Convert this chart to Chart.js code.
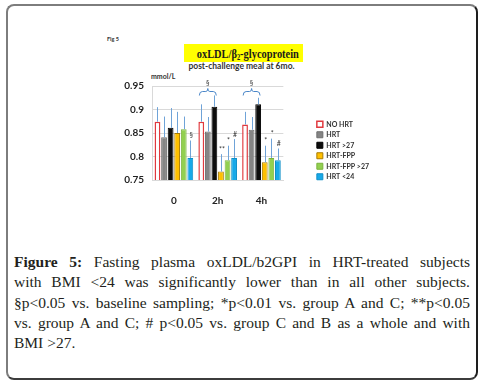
<!DOCTYPE html>
<html>
<head>
<meta charset="utf-8">
<script src="https://cdn.jsdelivr.net/npm/chart.js@4"></script>
<style>
html, body { margin: 0; padding: 0; background: #fff; }
body { width: 493px; height: 392px; position: relative; overflow: hidden; }
#frame { position: absolute; left: 6px; top: 4px; width: 468px; height: 372px; border: 2px solid; border-color: #7d7d7d #1e1e1e #3c3c3c #7d7d7d; border-radius: 8px; }
#chartBox { position: absolute; left: 100px; top: 72px; width: 279px; height: 144px; }
#title { position: absolute; left: 184px; top: 44px; width: 119px; height: 18px; background: #ffff00; text-align: center; line-height: 18px; white-space: nowrap; color: #1a1a1a; }
#title span { display: inline-block; font: bold 13px 'Liberation Serif', serif; transform: scaleX(0.8); transform-origin: center; }
#title sub { font-size: 8px; vertical-align: -2px; line-height: 0; }
#sub { position: absolute; left: 184px; top: 60px; width: 115px; text-align: center; white-space: nowrap; font: bold 8.5px Lato, sans-serif; line-height: 12px; color: #333; }
#fig { position: absolute; left: 107px; top: 36px; font: bold 5.5px Lato, sans-serif; color: #333; }
#unit { position: absolute; left: 151px; top: 71px; font: bold 7px Lato, sans-serif; line-height: 10px; color: #333; }
#cap { position: absolute; left: 14px; top: 252px; width: 456px; font: 15.5px 'Liberation Serif', serif; line-height: 20.3px; color: #231f20; }
#cap div { text-align: justify; text-align-last: justify; }
#cap div.last { text-align-last: left; }
</style>
</head>
<body>
<div id="frame"></div>
<div id="fig">Fig 5</div>
<div id="title"><span>oxLDL/β<sub>2</sub>-glycoprotein</span></div>
<div id="sub">post-challenge meal at 6mo.</div>
<div id="unit">mmol/L</div>
<div id="chartBox"><canvas id="chartFig5"></canvas></div>
<div id="cap">
  <div><b>Figure 5:</b> Fasting plasma oxLDL/b2GPI in HRT-treated subjects</div>
  <div>with BMI &lt;24 was significantly lower than in all other subjects.</div>
  <div>§p&lt;0.05 vs. baseline sampling; *p&lt;0.01 vs. group A and C; **p&lt;0.05</div>
  <div>vs. group A and C; # p&lt;0.05 vs. group C and B as a whole and with</div>
  <div class="last">BMI &gt;27.</div>
</div>
<script>
// sampling times
const categories = ['0', '2h', '4h'];
const seriesNames = ['NO HRT', 'HRT', 'HRT >27', 'HRT-FPP', 'HRT-FPP >27', 'HRT <24'];

// mean values (mmol/L)
const noHrt  = [0.874, 0.874, 0.868];
const hrt    = [0.841, 0.853, 0.857];
const hrt27  = [0.861, 0.906, 0.911];
const fpp    = [0.850, 0.768, 0.788];
const fpp27  = [0.858, 0.792, 0.797];
const hrt24  = [0.797, 0.797, 0.792];

// top of the error bars
const noHrtErr = [0.905, 0.911, 0.895];
const hrtErr   = [0.885, 0.884, 0.884];
const hrt27Err = [0.903, 0.930, 0.925];
const fppErr   = [0.895, 0.805, 0.823];
const fpp27Err = [0.885, 0.823, 0.838];
const hrt24Err = [0.834, 0.837, 0.817];

// significance marks
const noHrtMarks = ['', '', ''];
const hrtMarks   = ['', '', ''];
const hrt27Marks = ['', '', ''];
const fppMarks   = ['', '**', '*'];
const fpp27Marks = ['', '*', '*'];
const hrt24Marks = ['§', '#', '#'];

// § brackets (NO HRT .. HRT >27) over these times
const bracketTimes = ['2h', '4h'];
const bracketLevel = 0.940;

// y axis
const yMin = 0.75;
const yMax = 0.95;
const yStep = 0.05;

Chart.defaults.font.family = 'Lato';
Chart.defaults.color = '#333';

const dataFig5 = {
  labels: categories,
  datasets: [
    { label: seriesNames[0], data: noHrt, errHigh: noHrtErr, marks: noHrtMarks, backgroundColor: '#ffffff', borderColor: '#e0393e', borderWidth: 1.5 },
    { label: seriesNames[1], data: hrt, errHigh: hrtErr, marks: hrtMarks, backgroundColor: '#858585', borderColor: '#6f6f6f', borderWidth: 1 },
    { label: seriesNames[2], data: hrt27, errHigh: hrt27Err, marks: hrt27Marks, backgroundColor: '#0d0d0d', borderColor: '#000000', borderWidth: 1 },
    { label: seriesNames[3], data: fpp, errHigh: fppErr, marks: fppMarks, backgroundColor: '#ffc000', borderColor: '#a87a00', borderWidth: 1 },
    { label: seriesNames[4], data: fpp27, errHigh: fpp27Err, marks: fpp27Marks, backgroundColor: '#92d050', borderColor: '#7ab33d', borderWidth: 1 },
    { label: seriesNames[5], data: hrt24, errHigh: hrt24Err, marks: hrt24Marks, backgroundColor: '#17a9e8', borderColor: '#0f8fc8', borderWidth: 1 }
  ]
};

// error bars, marks and brackets
const extras = {
  id: 'extras',
  afterDatasetsDraw(chart) {
    const ctx = chart.ctx;
    const y = chart.scales.y;
    ctx.save();
    ctx.font = '7px Lato';
    ctx.fillStyle = '#333';
    ctx.textAlign = 'center';
    ctx.textBaseline = 'bottom';
    chart.data.datasets.forEach((ds, i) => {
      chart.getDatasetMeta(i).data.forEach((bar, j) => {
        const top = y.getPixelForValue(ds.errHigh[j]);
        ctx.strokeStyle = '#6fa3d8';
        ctx.lineWidth = 1;
        ctx.beginPath();
        ctx.moveTo(Math.round(bar.x) + 0.5, bar.y);
        ctx.lineTo(Math.round(bar.x) + 0.5, top);
        ctx.stroke();
        if (ds.marks[j]) ctx.fillText(ds.marks[j], bar.x + 1, top - 1);
      });
    });
    bracketTimes.forEach(t => {
      const j = categories.indexOf(t);
      const a = chart.getDatasetMeta(0).data[j];
      const b = chart.getDatasetMeta(2).data[j];
      const x1 = a.x - a.width / 2 + 1, x2 = b.x + b.width / 2 - 1, xm = (x1 + x2) / 2;
      const yb = Math.round(y.getPixelForValue(bracketLevel)) + 0.5;
      ctx.strokeStyle = '#4a86c8';
      ctx.lineWidth = 1;
      ctx.beginPath();
      ctx.moveTo(x1, yb + 4);
      ctx.quadraticCurveTo(x1, yb, x1 + 3, yb);
      ctx.lineTo(xm - 2, yb);
      ctx.quadraticCurveTo(xm, yb, xm, yb - 3);
      ctx.quadraticCurveTo(xm, yb, xm + 2, yb);
      ctx.lineTo(x2 - 3, yb);
      ctx.quadraticCurveTo(x2, yb, x2, yb + 4);
      ctx.stroke();
      ctx.fillText('§', xm, yb - 4);
    });
    ctx.restore();
  }
};

new Chart(document.getElementById('chartFig5'), {
  type: 'bar',
  data: dataFig5,
  options: {
    responsive: true,
    maintainAspectRatio: false,
    animation: false,
    layout: { padding: { top: 13, left: 0, right: 0, bottom: 0 } },
    datasets: { bar: { categoryPercentage: 0.9, barPercentage: 0.88 } },
    scales: {
      x: {
        grid: { display: false },
        border: { color: '#d9d9d9' },
        ticks: { font: { size: 10, weight: 'bold' }, color: '#222', padding: 7 },
        afterFit(s) { s.height = 36; }
      },
      y: {
        min: yMin,
        max: yMax,
        ticks: { stepSize: yStep, font: { size: 10, weight: 'bold' }, color: '#222', padding: 8,
                 callback: v => +v.toFixed(2) },
        grid: { color: '#d9d9d9', drawTicks: false },
        border: { color: '#d9d9d9' },
        afterFit(s) { s.width = 52; }
      },
      gap: {
        position: 'right',
        display: true,
        grid: { display: false },
        border: { display: false },
        ticks: { display: false },
        afterFit(s) { s.width = 30; }
      }
    },
    plugins: {
      legend: {
        position: 'right',
        align: 'center',
        maxWidth: 90,
        labels: { boxWidth: 6, boxHeight: 6, padding: 3.5, color: '#333', font: { size: 7, weight: 'bold' } }
      },
      tooltip: { enabled: false }
    }
  },
  plugins: [extras]
});
</script>
</body>
</html>
